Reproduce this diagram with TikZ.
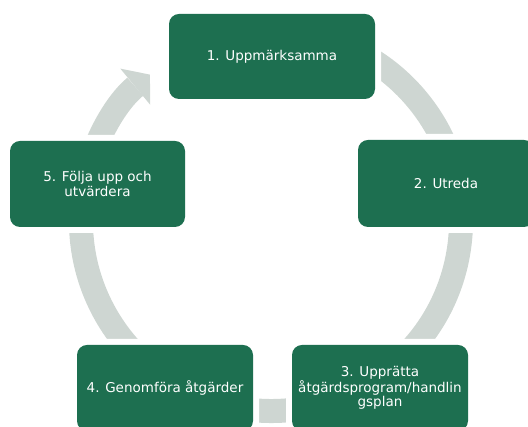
\documentclass[tikz,border=0pt]{standalone}
\usepackage{fontspec}
\setmainfont{DejaVu Sans}
\usetikzlibrary{arrows.meta}
\definecolor{cyclegreen}{HTML}{1D6F50}
\definecolor{ringgray}{HTML}{CED6D2}

\begin{document}
\begin{tikzpicture}[x=1pt, y=1pt,
  phase/.style={rectangle, rounded corners=10pt, fill=cyclegreen,
    preaction={draw=white, line width=12pt}, text=white,
    minimum width=176pt, minimum height=86pt, inner sep=2pt, align=center,
    font=\fontsize{13.5}{14.5}\selectfont},
  ring/.style={draw=ringgray, line width=24pt}]
  \useasboundingbox (0,0) rectangle (528,427);
  \coordinate (c) at (271,206);

  % grey cycle behind the steps
  \draw[ring, -{Triangle[width=47pt, length=19pt, line width=0pt]}]
    (c) ++(80:190) arc[start angle=80, end angle=-230.4, radius=190];

  \node[phase, minimum width=206pt, minimum height=85pt] (p1) at (272,370.5) {1. Uppmärksamma};
  \node[phase, minimum height=87pt] (p2) at (446,243.5) {2. Utreda};
  \node[phase] (p3) at (380,39) {3. Upprätta\\åtgärdsprogram/handlin\\gsplan};
  \node[phase] (p4) at (165,39) {4. Genomföra åtgärder};
  \node[phase, minimum width=175pt] (p5) at (97.5,243) {5. Följa upp och\\utvärdera};
\end{tikzpicture}
\end{document}
